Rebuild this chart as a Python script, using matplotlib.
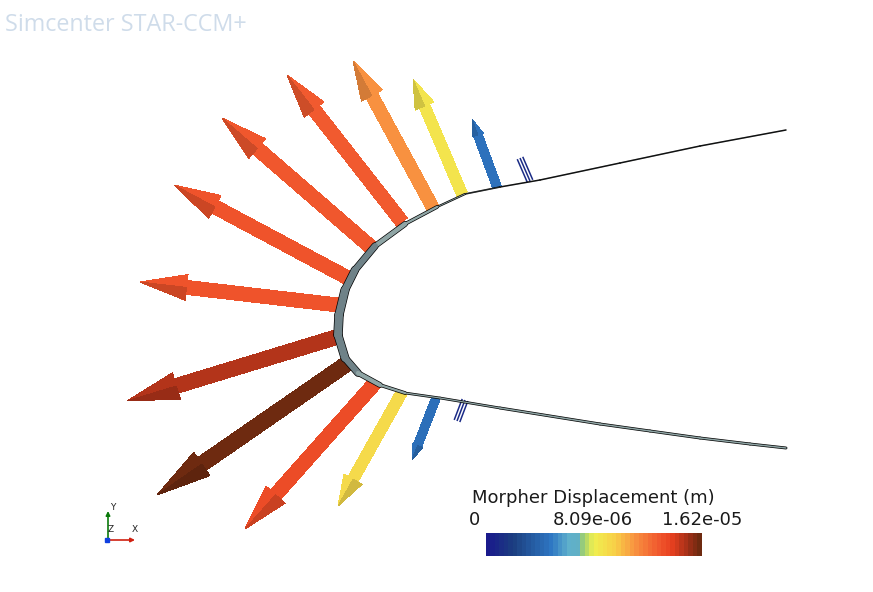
import numpy as np
import matplotlib
matplotlib.use("Agg")
import matplotlib.pyplot as plt
from matplotlib.colors import LinearSegmentedColormap, Normalize
from matplotlib.collections import LineCollection
from matplotlib.patches import Polygon

upper_base_x = [338, 348, 372, 402, 433, 462, 497, 530]
upper_base_y = [305, 278, 248, 222, 208, 194, 187, 181]
upper_tip_x = [140, 174, 222, 287, 353, 413, 472, 520]
upper_tip_y = [282, 185, 118, 75, 61, 79, 119, 158]
upper_disp = [1.33e-05, 1.33e-05, 1.31e-05, 1.30e-05, 1.13e-05, 8.7e-06, 4.5e-06, 1.0e-06]

lower_base_x = [337, 348, 375, 402, 436, 465]
lower_base_y = [337, 363, 383, 392, 398, 400]
lower_tip_x = [127, 157, 245, 338, 412, 457]
lower_tip_y = [401, 495, 529, 506, 460, 421]
lower_disp = [1.50e-05, 1.62e-05, 1.36e-05, 9.2e-06, 4.4e-06, 0.9e-06]

# wing section, trailing end upper -> nose -> trailing end lower
wing_x = [786, 700, 620, 540, 500, 465, 437, 405, 375, 355, 345, 339, 338, 345, 358, 380, 405, 440, 500, 600, 650, 700, 750, 786]
wing_y = [130, 146, 163, 180, 187, 194, 207, 224, 246, 270, 290, 315, 335, 358, 373, 385, 393, 398, 408, 424, 431, 438, 444, 448]
wing_band = [0.1, 0.1, 0.1, 0.1, 0.1, 0.3, 1.2, 3.5, 5.5, 6.5, 7.5, 8, 8, 7, 5.5, 3, 1.5, 1, 1.5, 1.5, 1.5, 1.5, 1.5, 1.5]

bar_min = 0
bar_mid = 8.09e-06
bar_max = 1.62e-05
bar_labels = ["0", "8.09e-06", "1.62e-05"]
bar_title = "Morpher Displacement (m)"
brand = "Simcenter STAR-CCM+"

cmap = LinearSegmentedColormap.from_list("starccm", [
    (0.00, "#1a1a8c"), (0.12, "#1c3f80"), (0.30, "#2f78c4"), (0.38, "#5fb0cc"),
    (0.43, "#62b0c4"), (0.45, "#a0d070"), (0.50, "#f0f050"), (0.60, "#f8d048"),
    (0.70, "#f89040"), (0.80, "#f25c30"), (0.87, "#e84020"), (0.95, "#a03018"),
    (1.00, "#6e2a10")])
norm = Normalize(bar_min, bar_max)


def draw_arrow(ax, x0, y0, x1, y1, disp):
    p0 = np.array([x0, y0], float)
    p1 = np.array([x1, y1], float)
    length = np.linalg.norm(p1 - p0)
    d = (p1 - p0) / length
    n = np.array([-d[1], d[0]])
    col = np.array(cmap(norm(disp)))
    dark = col.copy()
    dark[:3] *= 0.85

    if length < 40:
        # the smallest ones render as a few thin lines only
        for off in (-3, 0, 3):
            ax.plot([x0 + off * n[0], x1 + off * n[0]], [y0 + off * n[1], y1 + off * n[1]],
                    color=col, lw=1.1, solid_capstyle="butt", zorder=3)
        return

    shaft = 6 + length * 0.04
    head_w = shaft * 1.85 if length > 75 else shaft * 1.25
    head_l = 0.235 * length
    neck = p1 - d * head_l
    s = shaft / 2
    h = head_w / 2
    ax.add_patch(Polygon([p0 + n * s, neck + n * s, neck - n * s, p0 - n * s],
                         fc=col, ec="none", antialiased=False, zorder=3))
    ax.add_patch(Polygon([p1, neck + n * h, neck - n * h],
                         fc=col, ec="none", antialiased=False, zorder=3))
    # shaded side of the cone
    side = 1 if n[0] + n[1] > 0 else -1
    if d[1] < 0:
        side = 1 if n[0] < 0 else -1
    ax.add_patch(Polygon([p1, neck + side * n * h, neck],
                         fc=dark, ec="none", antialiased=False, zorder=3))


fig = plt.figure(figsize=(8.73, 5.92), dpi=100)
ax = fig.add_axes([0, 0, 1, 1])
ax.set_xlim(0, 873)
ax.set_ylim(592, 0)
ax.axis("off")

# wing band: black outline with a grey core
pts = np.column_stack([wing_x, wing_y]).reshape(-1, 1, 2)
segs = np.concatenate([pts[:-1], pts[1:]], axis=1)
band = np.array(wing_band)
widths = (band[:-1] + band[1:]) / 2
outline = LineCollection(segs, colors="black", linewidths=(widths + 1.4) * 0.72, capstyle="round", zorder=4)
ax.add_collection(outline)
greys = ["#6f8288" if w > 4.5 else "#8fa5a5" for w in widths]
core = LineCollection(segs, colors=greys, linewidths=widths * 0.72, capstyle="round", zorder=5)
ax.add_collection(core)

for i in range(len(upper_disp)):
    draw_arrow(ax, upper_base_x[i], upper_base_y[i], upper_tip_x[i], upper_tip_y[i], upper_disp[i])
for i in range(len(lower_disp)):
    draw_arrow(ax, lower_base_x[i], lower_base_y[i], lower_tip_x[i], lower_tip_y[i], lower_disp[i])

ax.text(5, 25, brand, fontsize=16.8, color="#cfdcea", family="Open Sans", va="center", ha="left")

# legend
ax.text(472, 498, bar_title, fontsize=13, color="#1a1a1a", family="DejaVu Sans", va="center", ha="left")
ax.text(469, 520, bar_labels[0], fontsize=13, color="#1a1a1a", family="DejaVu Sans", va="center", ha="left")
ax.text(593, 520, bar_labels[1], fontsize=13, color="#1a1a1a", family="DejaVu Sans", va="center", ha="center")
ax.text(742, 520, bar_labels[2], fontsize=13, color="#1a1a1a", family="DejaVu Sans", va="center", ha="right")

cax = fig.add_axes([486 / 873, 1 - 556 / 592, 216 / 873, 23 / 592])
grad = np.linspace(bar_min, bar_max, 48).reshape(1, -1)
cax.imshow(grad, aspect="auto", cmap=cmap, norm=norm, interpolation="nearest")
cax.axis("off")

# triad
ax.annotate("", xy=(108, 511), xytext=(108, 540),
            arrowprops=dict(arrowstyle="-|>", color="#0a7a0a", lw=1.2, mutation_scale=6, shrinkA=0, shrinkB=0))
ax.annotate("", xy=(135, 540), xytext=(108, 540),
            arrowprops=dict(arrowstyle="-|>", color="#d02010", lw=1.2, mutation_scale=6, shrinkA=0, shrinkB=0))
ax.plot([107], [539.5], marker="s", ms=3.5, color="#1040e0", zorder=6)
ax.text(113, 508, "Y", fontsize=6.5, color="#222222", ha="center", va="center")
ax.text(111, 530, "Z", fontsize=6.5, color="#222222", ha="center", va="center")
ax.text(135, 530, "X", fontsize=6.5, color="#222222", ha="center", va="center")

fig.savefig("out.png", dpi=100)
